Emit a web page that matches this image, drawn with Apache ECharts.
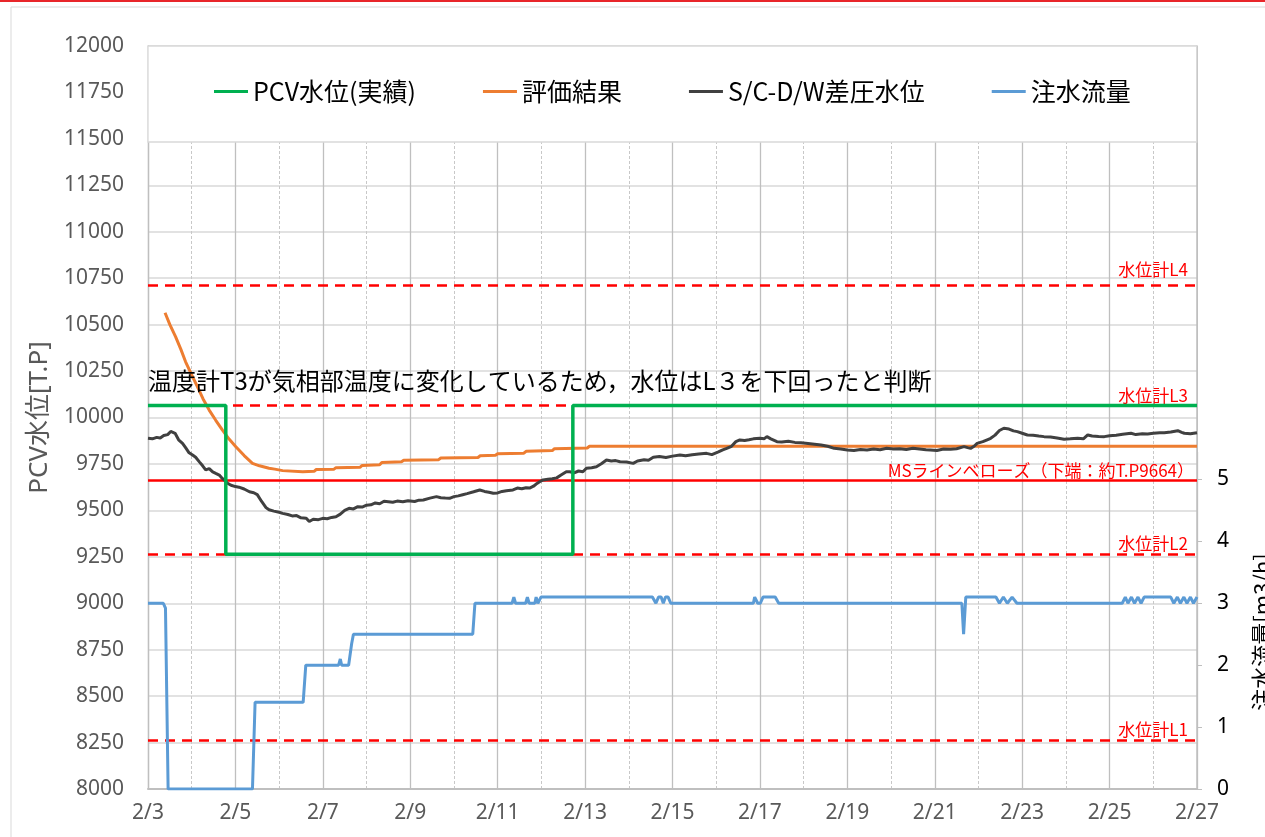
<!DOCTYPE html>
<html lang="ja">
<head>
<meta charset="UTF-8">
<title>PCV水位</title>
<script src="https://cdn.jsdelivr.net/npm/echarts@6/dist/echarts.min.js"></script>
<style>
  html, body { margin: 0; padding: 0; background: #fff; }
  #main { width: 1265px; height: 837px; }
</style>
</head>
<body>
<div id="main"></div>
<script>
// x = days since 2/3 00:00
const xLabels = ['2/3', '2/5', '2/7', '2/9', '2/11', '2/13', '2/15', '2/17', '2/19', '2/21', '2/23', '2/25', '2/27'];

const levelNames = ['水位計L4', '水位計L3', '水位計L2', '水位計L1'];
const levelValues = [10714, 10064, 9264, 8264];
const msName = 'MSラインベローズ（下端：約T.P9664）';
const msValue = 9664;

const pcvData = [[0, 10064], [1.78, 10064], [1.78, 9264], [9.72, 9264], [9.72, 10064], [24, 10064]];

const evalData = [
  [0.39, 10564], [0.5, 10500], [0.63, 10435], [0.75, 10368], [0.86, 10300], [1.0, 10230],
  [1.13, 10166], [1.26, 10100], [1.4, 10040], [1.55, 9985], [1.7, 9933], [1.85, 9885],
  [2.01, 9843], [2.2, 9795], [2.39, 9753], [2.55, 9740], [2.77, 9727], [2.9, 9722],
  [3.08, 9714], [3.54, 9708], [3.8, 9710], [3.85, 9720], [4.25, 9721], [4.3, 9730],
  [4.85, 9732], [4.9, 9742], [5.3, 9745], [5.35, 9758], [5.8, 9762], [5.85, 9770],
  [6.65, 9773], [6.7, 9782], [7.55, 9785], [7.6, 9794], [7.95, 9797], [8.0, 9805],
  [8.6, 9808], [8.65, 9818], [9.25, 9822], [9.3, 9832], [10.05, 9836], [10.1, 9845], [24, 9845]
];

const scdwData = [
  [0, 9888], [0.1, 9885], [0.2, 9893], [0.28, 9890], [0.36, 9903], [0.45, 9908], [0.52, 9925], [0.56, 9933],
  [0.62, 9915], [0.7, 9880], [0.79, 9861], [0.86, 9838], [0.94, 9810], [1.02, 9798], [1.09, 9786], [1.18, 9760],
  [1.25, 9740], [1.32, 9718], [1.4, 9725], [1.48, 9707], [1.55, 9699], [1.63, 9690], [1.7, 9672], [1.76, 9660],
  [1.82, 9646], [1.9, 9635], [2.0, 9628], [2.08, 9625], [2.2, 9615], [2.32, 9600], [2.42, 9595], [2.5, 9585],
  [2.6, 9548], [2.7, 9515], [2.77, 9503], [2.88, 9496], [3.0, 9490], [3.08, 9484], [3.2, 9478], [3.3, 9470],
  [3.4, 9472], [3.5, 9460], [3.62, 9458], [3.69, 9440], [3.78, 9452], [3.9, 9450], [4.0, 9457], [4.1, 9455],
  [4.2, 9462], [4.3, 9466], [4.4, 9480], [4.5, 9500], [4.6, 9511], [4.7, 9508], [4.8, 9520], [4.9, 9518],
  [5.0, 9528], [5.1, 9530], [5.2, 9540], [5.3, 9536], [5.4, 9549], [5.5, 9547], [5.6, 9544], [5.7, 9550],
  [5.83, 9546], [5.95, 9552], [6.1, 9548], [6.2, 9555], [6.3, 9556], [6.45, 9566], [6.6, 9574], [6.7, 9568],
  [6.8, 9566], [6.9, 9565], [7.0, 9574], [7.1, 9578], [7.2, 9584], [7.3, 9590], [7.45, 9600], [7.59, 9610],
  [7.7, 9602], [7.8, 9598], [7.9, 9592], [8.0, 9594], [8.1, 9602], [8.2, 9606], [8.35, 9610], [8.45, 9620],
  [8.55, 9616], [8.65, 9622], [8.73, 9620], [8.82, 9630], [8.9, 9645], [8.96, 9654], [9.04, 9664], [9.15, 9668],
  [9.25, 9670], [9.35, 9675], [9.45, 9690], [9.57, 9708], [9.65, 9708], [9.75, 9702], [9.85, 9712], [9.95, 9708],
  [10.03, 9727], [10.15, 9730], [10.26, 9735], [10.38, 9752], [10.49, 9771], [10.6, 9766], [10.7, 9768], [10.8, 9762],
  [10.95, 9760], [11.1, 9753], [11.2, 9766], [11.35, 9772], [11.45, 9770], [11.56, 9786], [11.7, 9790], [11.85, 9785],
  [12.0, 9792], [12.17, 9798], [12.3, 9794], [12.45, 9800], [12.6, 9804], [12.78, 9807], [12.9, 9800], [13.05, 9815],
  [13.15, 9826], [13.24, 9834], [13.35, 9845], [13.45, 9870], [13.54, 9879], [13.65, 9876], [13.75, 9880], [13.85, 9885],
  [14.0, 9888], [14.1, 9886], [14.16, 9897], [14.25, 9885], [14.39, 9870], [14.5, 9868], [14.65, 9872], [14.8, 9866],
  [14.94, 9864], [15.1, 9860], [15.25, 9856], [15.4, 9852], [15.55, 9845], [15.7, 9834], [15.85, 9830], [16.0, 9825],
  [16.15, 9822], [16.3, 9828], [16.45, 9825], [16.6, 9830], [16.75, 9826], [16.9, 9834], [17.05, 9830], [17.2, 9832],
  [17.35, 9828], [17.5, 9834], [17.65, 9830], [17.8, 9826], [17.9, 9825], [18.05, 9822], [18.2, 9830], [18.36, 9829],
  [18.5, 9832], [18.67, 9843], [18.75, 9838], [18.82, 9834], [18.9, 9845], [18.97, 9861], [19.1, 9870], [19.2, 9880],
  [19.28, 9888], [19.38, 9905], [19.48, 9930], [19.58, 9942], [19.7, 9938], [19.8, 9928], [19.89, 9924], [20.0, 9915],
  [20.12, 9906], [20.25, 9904], [20.38, 9900], [20.5, 9897], [20.65, 9895], [20.8, 9890], [20.96, 9883], [21.1, 9885],
  [21.27, 9888], [21.4, 9885], [21.5, 9906], [21.6, 9900], [21.75, 9898], [21.88, 9897], [22.0, 9902], [22.15, 9905],
  [22.3, 9910], [22.49, 9915], [22.6, 9908], [22.75, 9912], [22.87, 9911], [23.0, 9915], [23.15, 9918], [23.25, 9918],
  [23.4, 9922], [23.56, 9929], [23.65, 9920], [23.71, 9915], [23.85, 9912], [24.0, 9918]
];

const flowData = [
  [0, 3.0], [0.35, 3.0], [0.4, 2.92], [0.46, 0],
  [2.39, 0], [2.45, 1.4],
  [3.55, 1.4], [3.61, 2.0],
  [4.36, 2.0], [4.4, 2.1], [4.43, 2.0],
  [4.59, 2.0], [4.66, 2.35], [4.7, 2.5],
  [7.43, 2.5], [7.48, 3.0],
  [8.33, 3.0], [8.37, 3.1], [8.41, 3.0],
  [8.64, 3.0], [8.68, 3.1], [8.72, 3.0],
  [8.85, 3.0], [8.88, 3.1], [8.92, 3.0],
  [8.96, 3.0], [8.99, 3.1],
  [11.54, 3.1], [11.62, 3.0], [11.68, 3.1], [11.74, 3.1], [11.79, 3.0], [11.84, 3.1], [11.9, 3.1], [11.96, 3.0],
  [13.85, 3.0], [13.88, 3.1], [13.95, 3.0], [14.01, 3.0], [14.07, 3.1], [14.35, 3.1], [14.43, 3.0],
  [18.62, 3.0], [18.66, 2.5], [18.71, 3.1],
  [19.4, 3.1], [19.48, 3.0], [19.57, 3.1], [19.66, 3.0], [19.77, 3.1], [19.88, 3.0],
  [22.29, 3.0], [22.36, 3.1], [22.42, 3.0], [22.5, 3.1], [22.57, 3.0], [22.65, 3.1], [22.72, 3.0], [22.79, 3.1],
  [23.4, 3.1], [23.47, 3.0], [23.55, 3.1], [23.62, 3.0], [23.7, 3.1], [23.77, 3.0], [23.85, 3.1], [23.92, 3.0], [24.0, 3.1]
];

const CJK = '"Noto Sans CJK JP", "Noto Sans", sans-serif';
const MIX = '"Noto Sans", "Noto Sans CJK JP", sans-serif';
const NUM = '"Noto Sans", sans-serif';

function levelLine(value, name, dashed, dist) {
  return {
    yAxis: value,
    lineStyle: { color: '#ff0000', width: 2.5, type: dashed ? [10, 7] : 'solid' },
    label: {
      show: true, formatter: name, position: 'insideEndTop',
      color: '#ff0000', fontSize: 17, fontFamily: CJK, distance: dist
    }
  };
}

let marks = levelValues.map((v, i) => levelLine(v, levelNames[i], true, i === 0 ? [9, 7] : [9, 2]));
marks.push(levelLine(msValue, msName, false, [3, 1]));

let option = {
  backgroundColor: '#fff',
  animation: false,
  textStyle: { fontFamily: CJK },
  grid: { left: 148, right: 68, top: 46, bottom: 48 },
  legend: {
    data: ['PCV水位(実績)', '評価結果', 'S/C-D/W差圧水位', '注水流量'],
    left: 214, top: 79, padding: 0, itemGap: 67,
    itemWidth: 34, itemHeight: 3, icon: 'rect',
    textStyle: { fontSize: 25, color: '#000', fontFamily: CJK },
    z: 10
  },
  xAxis: {
    type: 'value', min: 0, max: 24, interval: 2,
    axisLine: { lineStyle: { color: '#bfbfbf', width: 2 } },
    axisTick: { show: false },
    axisLabel: {
      color: '#595959', fontSize: 21, margin: 14, fontFamily: NUM,
      formatter: v => xLabels[Math.round(v / 2)]
    },
    splitLine: { show: true, lineStyle: { color: '#bfbfbf', width: 1.3 } },
    minorTick: { show: false, splitNumber: 2 },
    minorSplitLine: { show: true, lineStyle: { color: '#c8c8c8', type: [3, 2], width: 1 } }
  },
  yAxis: [{
    type: 'value', min: 8000, max: 12000, interval: 250,
    name: 'PCV水位[T.P]', nameLocation: 'middle', nameGap: 92,
    nameTextStyle: { color: '#595959', fontSize: 26, fontFamily: MIX },
    axisLine: { show: true, lineStyle: { color: '#bfbfbf', width: 1.3 } },
    axisTick: { show: false },
    axisLabel: { color: '#595959', fontSize: 21, margin: 24, fontFamily: NUM, formatter: v => String(v) },
    splitLine: { lineStyle: { color: '#d9d9d9', width: 1.5 } }
  }, {
    type: 'value', min: 0, max: 12, interval: 1, position: 'right',
    axisLine: { show: true, lineStyle: { color: '#bfbfbf', width: 1.5 } },
    axisTick: { show: true, length: 5, lineStyle: { color: '#bfbfbf' } },
    axisLabel: {
      color: '#000', fontSize: 21, margin: 20, fontFamily: NUM,
      formatter: v => (v <= 5 ? String(v) : '')
    },
    splitLine: { show: false }
  }],
  graphic: [
    { type: 'rect', shape: { x: 0, y: 0, width: 1265, height: 2 }, style: { fill: '#e8262a' }, z: 30 },
    { type: 'rect', shape: { x: 11, y: 7, width: 1300, height: 900 }, style: { fill: 'none', stroke: '#d9d9d9', lineWidth: 1 }, z: 0 },
    { type: 'rect', shape: { x: 1198, y: 8, width: 67, height: 444 }, style: { fill: '#fff' }, z: 20 },
    { type: 'rect', shape: { x: 148, y: 46, width: 1048.7, height: 96 }, style: { fill: '#fff', stroke: '#d9d9d9', lineWidth: 1.3 }, z: 3 },
    {
      type: 'text', x: 1262, y: 632, rotation: Math.PI / 2, z: 25,
      style: { text: '注水流量[m3/h]', fill: '#000', fontSize: 22, fontFamily: CJK, align: 'center', verticalAlign: 'middle' }
    },
    {
      type: 'text', x: 148, y: 381, z: 6,
      style: { text: '温度計T3が気相部温度に変化しているため，水位はL３を下回ったと判断', fill: '#000', fontSize: 24, fontFamily: CJK, align: 'left', verticalAlign: 'middle' }
    }
  ],
  series: [{
    name: '評価結果', type: 'line', data: evalData, symbol: 'none', z: 3,
    lineStyle: { color: '#ed7d31', width: 3 }, itemStyle: { color: '#ed7d31' }
  }, {
    name: 'S/C-D/W差圧水位', type: 'line', data: scdwData, symbol: 'none', z: 4,
    lineStyle: { color: '#404040', width: 3 }, itemStyle: { color: '#404040' }
  }, {
    name: '注水流量', type: 'line', yAxisIndex: 1, data: flowData, symbol: 'none', z: 3,
    lineStyle: { color: '#5b9bd5', width: 3 }, itemStyle: { color: '#5b9bd5' }
  }, {
    name: 'PCV水位(実績)', type: 'line', data: pcvData, symbol: 'none', z: 5,
    lineStyle: { color: '#00b050', width: 3.5 }, itemStyle: { color: '#00b050' },
    markLine: { symbol: 'none', silent: true, z: 2, animation: false, data: marks }
  }]
};

let chart = echarts.init(document.getElementById('main'));
chart.setOption(option);
</script>
</body>
</html>
